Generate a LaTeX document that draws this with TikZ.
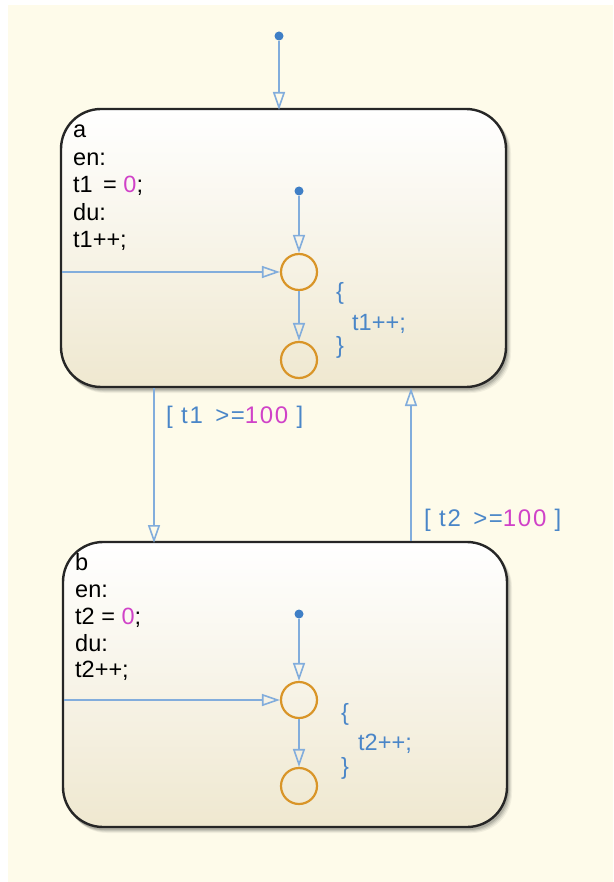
\documentclass[tikz,border=0pt]{standalone}
\usepackage{fontspec}
\setmainfont{Liberation Sans}
\newfontfamily\guardfont[LetterSpace=7]{Liberation Sans}
\usetikzlibrary{arrows.meta}
\definecolor{bgc}{HTML}{FEFBEA}
\definecolor{lineblue}{HTML}{82ADDC}
\definecolor{txtblue}{HTML}{4A86C8}
\definecolor{dotblue}{HTML}{3F7FC6}
\definecolor{mag}{HTML}{D042C8}
\definecolor{junc}{HTML}{D99528}
\definecolor{stbot}{HTML}{EFE8D0}
\tikzset{
  statebox/.style={draw=black!85, line width=2.4pt, rounded corners=40pt, top color=white, bottom color=stbot},
  shadowbox/.style={fill=black, rounded corners=40pt},
  trans/.style={draw=lineblue, line width=2.2pt, -{Triangle[open, length=18pt, width=12pt, line width=1.6pt]}},
  junction/.style={circle, draw=junc, line width=2.2pt, minimum size=36pt, inner sep=0pt},
  dflt/.style={circle, fill=dotblue, minimum size=9pt, inner sep=0pt},
  codetxt/.style={anchor=base west, inner sep=0pt, font=\fontsize{23.5}{26}\selectfont, text=black},
  bluetxt/.style={anchor=base west, inner sep=0pt, font=\fontsize{23.5}{26}\selectfont, text=txtblue},
  guardtxt/.style={anchor=base west, inner sep=0pt, font=\guardfont\fontsize{24}{26}\selectfont, text=txtblue},
}
\begin{document}
\begin{tikzpicture}[x=1pt,y=-1pt]
\useasboundingbox (0,0) rectangle (613,882);
\fill[white] (0,0) rectangle (613,882);
\fill[bgc] (8,5) rectangle (613,882);
% soft shadows
\foreach \o/\a in {5/0.05,4/0.07,3/0.09,2/0.12}{
  \fill[shadowbox, opacity=\a] (60+\o,108+\o) rectangle (506+\o,388+\o);
  \fill[shadowbox, opacity=\a] (62+\o,542+\o) rectangle (507+\o,828+\o);
}
% states
\path[statebox] (61,109) rectangle (506,387);
\path[statebox] (63,542) rectangle (507,827);
\coordinate (aTop) at (279,110);
\coordinate (aLeft) at (62,272);
\coordinate (bLeft) at (64,700);
\coordinate (aBot1) at (154,388);
\coordinate (bTop1) at (154,543);
\coordinate (bTop2) at (411,541);
\coordinate (aBot2) at (411,388);
% default transition
\node[dflt] (d0) at (279,36) {};
\draw[trans] (d0) -- (aTop);
% state a text
\node[codetxt] (la) at (73,138) {a};
\node[codetxt] (len) at (73,166) {en:};
\node[codetxt] (lt1) at (73,193) {t1 \,= \textcolor{mag}{0};};
\node[codetxt] (ldu) at (73,221) {du:};
\node[codetxt] (lpp) at (73,248) {t1++;};
% inner a
\node[dflt] (da) at (299,191) {};
\node[junction] (ja1) at (299,272) {};
\node[junction] (ja2) at (299,360) {};
\draw[trans] (da) -- (ja1);
\draw[trans] (aLeft) -- (ja1);
\draw[trans] (ja1) -- (ja2);
\node[bluetxt] (ob1) at (336,299) {\{};
\node[bluetxt] (ac1) at (352,330) {t1++;};
\node[bluetxt] (cb1) at (336,353) {\}};
% transitions between
\draw[trans] (aBot1) -- (bTop1);
\node[guardtxt] (g1) at (166,423) {[ t1 \,>=\textcolor{mag}{100} ]};
\draw[trans] (bTop2) -- (aBot2);
\node[guardtxt] (g2) at (424,526) {[ t2 \,>=\textcolor{mag}{100} ]};
% state b text
\node[codetxt] (lb) at (75,570) {b};
\node[codetxt] (lben) at (75,597) {en:};
\node[codetxt] (lt2) at (75,624) {t2 = \textcolor{mag}{0};};
\node[codetxt] (lbdu) at (75,651) {du:};
\node[codetxt] (lbpp) at (75,677) {t2++;};
% inner b
\node[dflt] (db) at (299,614) {};
\node[junction] (jb1) at (299,700) {};
\node[junction] (jb2) at (299,786) {};
\draw[trans] (db) -- (jb1);
\draw[trans] (bLeft) -- (jb1);
\draw[trans] (jb1) -- (jb2);
\node[bluetxt] (ob2) at (341,720) {\{};
\node[bluetxt] (ac2) at (358,750) {t2++;};
\node[bluetxt] (cb2) at (341,774) {\}};
\end{tikzpicture}
\end{document}
